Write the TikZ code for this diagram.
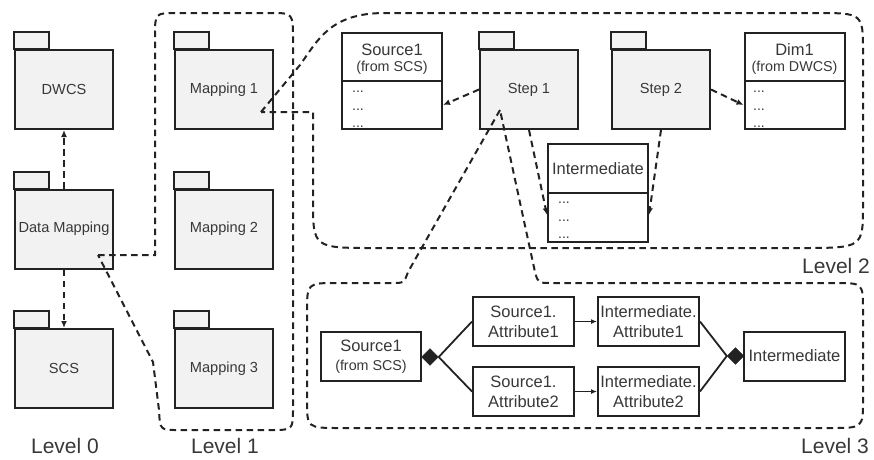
\documentclass[tikz,border=0pt]{standalone}
\usepackage{fontspec}
\setmainfont{Liberation Sans}
\usetikzlibrary{arrows.meta,shapes.geometric,calc}
\definecolor{ink}{HTML}{222222}
\definecolor{txt}{HTML}{383838}
\definecolor{pkgfill}{HTML}{F2F2F2}

\tikzset{
  base/.style={draw=ink, line width=2pt, text=txt, inner sep=0pt},
  pkg/.style={base, fill=pkgfill, minimum width=98pt, minimum height=79pt,
    font=\fontsize{14.6}{16}\selectfont},
  pkgtab/.style={draw=ink, line width=2pt, fill=pkgfill},
  classbox/.style={base, fill=white, minimum width=100pt, minimum height=96pt},
  title/.style={text=txt, inner sep=0pt, font=\fontsize{16.5}{19}\selectfont},
  subtitle/.style={text=txt, inner sep=0pt, font=\fontsize{14.3}{17}\selectfont},
  dots/.style={text=txt, inner sep=0pt, anchor=west, font=\fontsize{14}{16}\selectfont},
  attr/.style={base, fill=white, minimum width=101pt, minimum height=49pt,
    align=center, font=\fontsize{16.5}{20}\selectfont},
  zone/.style={draw=ink, line width=2pt, dash pattern=on 6.5pt off 4.5pt},
  dep/.style={zone, -{Latex[length=7pt,width=6pt]}},
  link/.style={draw=ink, line width=1.8pt},
  assoc/.style={link, -{Latex[length=6pt,width=5pt]}},
  comp/.style={diamond, fill=ink, draw=ink, minimum width=17pt, minimum height=17pt, inner sep=0pt},
  levellabel/.style={text=txt, inner sep=0pt, font=\fontsize{21}{24}\selectfont},
}

\begin{document}
\begin{tikzpicture}[x=1pt,y=-1pt]
\useasboundingbox (0,0) rectangle (874,459);

% ---- packages ----
\node[pkg] (dwcs)  at (64,89.5)   {DWCS};
\node[pkg] (dm)    at (64,229)    {Data Mapping};
\node[pkg] (scs)   at (64,368.5)  {SCS};
\node[pkg] (map1)  at (224,89.5)  {Mapping 1};
\node[pkg] (map2)  at (224,229)   {Mapping 2};
\node[pkg] (map3)  at (224,368.5) {Mapping 3};
\node[pkg] (step1) at (529,89.5)  {Step 1};
\node[pkg] (step2) at (661,89.5)  {Step 2};
\foreach \n in {dwcs,dm,scs,map1,map2,map3,step1,step2}
  \draw[pkgtab] (\n.north west) rectangle ++(35,-17);

% ---- classes of level 2 ----
\node[classbox] (src) at (392,81) {};
\draw[link] (src.west) -- (src.east);
\node[title] (srcname) at (392,50) {Source1};
\node[subtitle] (srcfrom) at (392,68) {(from SCS)};
\foreach \y [count=\i] in {92,110,127}
  \node[dots] (srcdot\i) at (352,\y) {...};

\node[classbox] (dim) at (794.5,81) {};
\draw[link] (dim.west) -- (dim.east);
\node[title] (dimname) at (794.5,50) {Dim1};
\node[subtitle] (dimfrom) at (794.5,68) {(from DWCS)};
\foreach \y [count=\i] in {92,110,127}
  \node[dots] (dimdot\i) at (753,\y) {...};

\node[classbox, minimum height=98pt] (inter) at (598,193) {};
\draw[link] (inter.west) -- (inter.east);
\node[title] (intername) at (598,169) {Intermediate};
\foreach \y [count=\i] in {203,221,238}
  \node[dots] (interdot\i) at (558,\y) {...};

% ---- dependencies ----
\draw[dep] (dm) -- (dwcs);
\draw[dep] (dm) -- (scs);
\draw[dep] (step1.west) -- ($(src.east)+(0,24)$);
\draw[dep] (step2.east) -- ($(dim.west)+(0,24)$);
\draw[dep] (step1.south) -- ($(inter.west)+(0,22)$);
\draw[dep] (step2.south) -- ($(inter.east)+(0,22)$);

% ---- level 3 attributes ----
\node[attr, minimum width=100pt] (s1) at (371,356.5)
  {Source1\\[-1pt]{\fontsize{14.3}{17}\selectfont (from SCS)}};
\node[attr] (sa1) at (523.5,321.5) {Source1.\\Attribute1};
\node[attr] (sa2) at (523.5,391.5) {Source1.\\Attribute2};
\node[attr] (ia1) at (648.5,321.5) {Intermediate.\\Attribute1};
\node[attr] (ia2) at (648.5,391.5) {Intermediate.\\Attribute2};
\node[attr] (it)  at (794.5,356)   {Intermediate};

\node[comp] (d1) at (430,357) {};
\node[comp] (d2) at (735.5,356) {};
\draw[link] (d1.east) -- (sa1.west);
\draw[link] (d1.east) -- (sa2.west);
\draw[assoc] (sa1) -- (ia1);
\draw[assoc] (sa2) -- (ia2);
\draw[link] (ia1.east) -- (d2.west);
\draw[link] (ia2.east) -- (d2.west);

% ---- zoom outlines of the levels ----
\coordinate (dmp) at (98,255);
\coordinate (m1p) at (261,112);
\coordinate (s1p) at (500,110);

% level 1
\draw[zone] (dmp) -- (155,255) -- (155,36) .. controls (155,13) .. (177,13)
  -- (271,13) .. controls (293,13) .. (293,40) -- (293,408)
  .. controls (293,430) .. (271,430) -- (178,430)
  .. controls (160,430) .. (159,410) -- (153,362) -- (dmp);

% level 2
\draw[zone] (m1p) -- (300,65) .. controls (318,40) and (330,13) .. (385,13)
  -- (815,13) .. controls (863,13) .. (863,52) -- (863,205)
  .. controls (863,248) .. (800,248) -- (375,248)
  .. controls (313,248) .. (313,200) -- (313,112) -- (m1p);

% level 3
\draw[zone] (s1p) -- (408,272) .. controls (404,283) .. (392,283) -- (337,283)
  .. controls (307,283) .. (307,313) -- (307,400)
  .. controls (307,428) .. (340,428) -- (830,428)
  .. controls (863,428) .. (863,400) -- (863,310)
  .. controls (863,283) .. (835,283) -- (552,283)
  .. controls (538,283) .. (535,272) -- (s1p);

% ---- level labels ----
\node[levellabel] (lv0) at (65,446)  {Level 0};
\node[levellabel] (lv1) at (225,446) {Level 1};
\node[levellabel] (lv2) at (836,266) {Level 2};
\node[levellabel] (lv3) at (835,446) {Level 3};
\end{tikzpicture}
\end{document}
